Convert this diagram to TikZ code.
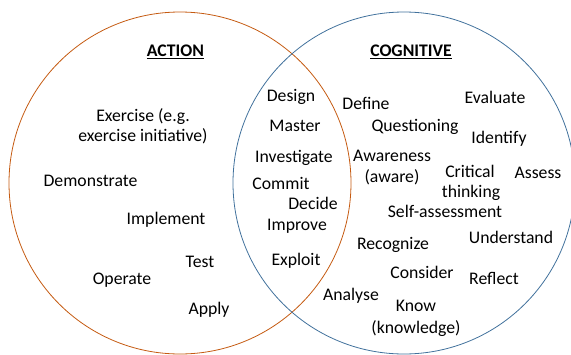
\documentclass[tikz,border=0pt]{standalone}
\usepackage{fontspec}
\setmainfont{Carlito}
\definecolor{actcol}{HTML}{C55A11}
\definecolor{cogcol}{HTML}{41719C}
\begin{document}
\begin{tikzpicture}[x=1pt,y=-1pt,
  word/.style={anchor=base,inner sep=0pt,font=\fontsize{17.7}{21}\selectfont},
  head/.style={word,font=\fontsize{17.7}{21}\selectfont\bfseries},
  uline/.style={line width=1.2pt}]
\useasboundingbox (0,0) rectangle (571,354);
\draw[actcol,line width=0.8pt] (180,183) circle[radius=171];
\draw[cogcol,line width=0.8pt] (404,183) circle[radius=171];
% headings
\node[head] (act) at (175.5,56.5) {ACTION};
\node[head] (cog) at (411,56.5) {COGNITIVE};
\draw[uline] ([yshift=-2.3pt]act.base west) -- ([yshift=-2.3pt]act.base east);
\draw[uline] ([yshift=-2.3pt]cog.base west) -- ([yshift=-2.3pt]cog.base east);
% action
\node[word] (ex1) at (143,121) {Exercise (e.g.};
\node[word] (ex2) at (143,141) {exercise initiative)};
\node[word] (dem) at (90.5,186) {Demonstrate};
\node[word] (imp) at (166,224) {Implement};
\node[word] (tst) at (200,267) {Test};
\node[word] (ope) at (122,284) {Operate};
\node[word] (app) at (209,314) {Apply};
% overlap
\node[word] (des) at (291,101) {Design};
\node[word] (mas) at (295,131) {Master};
\node[word] (inv) at (294,162) {Investigate};
\node[word] (com) at (281,189) {Commit};
\node[word] (dec) at (313,209) {Decide};
\node[word] (impr) at (297,230) {Improve};
\node[word] (exp) at (296,265) {Exploit};
% cognitive
\node[word] (def) at (366,109) {Define};
\node[word] (eva) at (495,103) {Evaluate};
\node[word] (que) at (415,131) {Questioning};
\node[word] (ide) at (499,143) {Identify};
\node[word] (aw1) at (392,161) {Awareness};
\node[word] (aw2) at (392,182) {(aware)};
\node[word] (cr1) at (470,177) {Critical};
\node[word] (cr2) at (471,197) {thinking};
\node[word] (ass) at (538,178) {Assess};
\node[word] (sel) at (445,217) {Self-assessment};
\node[word] (und) at (511,243) {Understand};
\node[word] (rec) at (393,249) {Recognize};
\node[word] (con) at (422,278) {Consider};
\node[word] (ref) at (494,284) {Reflect};
\node[word] (ana) at (351,300) {Analyse};
\node[word] (kn1) at (416,311) {Know};
\node[word] (kn2) at (416,333) {(knowledge)};
\end{tikzpicture}
\end{document}
